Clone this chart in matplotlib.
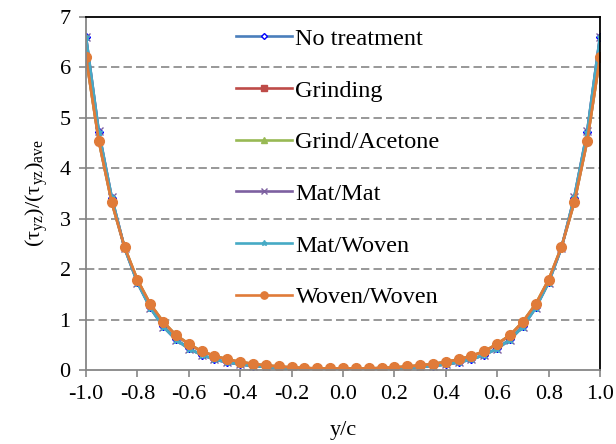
import numpy as np
import matplotlib
matplotlib.use("Agg")
import matplotlib.pyplot as plt

plt.rcParams['font.family'] = ['Liberation Serif', 'DejaVu Serif']

# y/c stations
y_c = [-1.00, -0.95, -0.90, -0.85, -0.80, -0.75, -0.70, -0.65, -0.60, -0.55,
       -0.50, -0.45, -0.40, -0.35, -0.30, -0.25, -0.20, -0.15, -0.10, -0.05,
       0.00, 0.05, 0.10, 0.15, 0.20, 0.25, 0.30, 0.35, 0.40, 0.45,
       0.50, 0.55, 0.60, 0.65, 0.70, 0.75, 0.80, 0.85, 0.90, 0.95, 1.00]

no_treatment = [6.60, 4.71, 3.42, 2.42, 1.74, 1.24, 0.87, 0.61, 0.43, 0.30,
                0.21, 0.15, 0.11, 0.08, 0.06, 0.04, 0.03, 0.02, 0.02, 0.01,
                0.01, 0.01, 0.02, 0.02, 0.03, 0.04, 0.06, 0.08, 0.11, 0.15,
                0.21, 0.30, 0.43, 0.61, 0.87, 1.24, 1.74, 2.42, 3.42, 4.71, 6.60]
grinding = [6.20, 4.53, 3.32, 2.43, 1.78, 1.30, 0.95, 0.69, 0.51, 0.37,
            0.28, 0.21, 0.16, 0.12, 0.09, 0.07, 0.05, 0.04, 0.03, 0.03,
            0.03, 0.03, 0.03, 0.04, 0.05, 0.07, 0.09, 0.12, 0.16, 0.21,
            0.28, 0.37, 0.51, 0.69, 0.95, 1.30, 1.78, 2.43, 3.32, 4.53, 6.20]
grind_acetone = [6.21, 4.54, 3.33, 2.44, 1.79, 1.31, 0.96, 0.69, 0.52, 0.37,
                 0.28, 0.21, 0.16, 0.12, 0.09, 0.07, 0.05, 0.04, 0.03, 0.03,
                 0.03, 0.03, 0.03, 0.04, 0.05, 0.07, 0.09, 0.12, 0.16, 0.21,
                 0.28, 0.37, 0.52, 0.69, 0.96, 1.31, 1.79, 2.44, 3.33, 4.54, 6.21]
mat_mat = [6.61, 4.73, 3.43, 2.42, 1.73, 1.23, 0.86, 0.60, 0.42, 0.30,
           0.21, 0.15, 0.11, 0.08, 0.06, 0.04, 0.03, 0.02, 0.02, 0.01,
           0.01, 0.01, 0.02, 0.02, 0.03, 0.04, 0.06, 0.08, 0.11, 0.15,
           0.21, 0.30, 0.42, 0.60, 0.86, 1.23, 1.73, 2.42, 3.43, 4.73, 6.61]
mat_woven = [6.61, 4.72, 3.43, 2.42, 1.73, 1.23, 0.86, 0.60, 0.42, 0.30,
             0.21, 0.15, 0.11, 0.08, 0.06, 0.04, 0.03, 0.02, 0.02, 0.01,
             0.01, 0.01, 0.02, 0.02, 0.03, 0.04, 0.06, 0.08, 0.11, 0.15,
             0.21, 0.30, 0.42, 0.60, 0.86, 1.23, 1.73, 2.42, 3.43, 4.72, 6.61]
woven_woven = [6.21, 4.54, 3.33, 2.44, 1.79, 1.31, 0.96, 0.69, 0.52, 0.37,
               0.28, 0.21, 0.16, 0.12, 0.09, 0.07, 0.05, 0.04, 0.03, 0.03,
               0.03, 0.03, 0.03, 0.04, 0.05, 0.07, 0.09, 0.12, 0.16, 0.21,
               0.28, 0.37, 0.52, 0.69, 0.96, 1.31, 1.79, 2.44, 3.33, 4.54, 6.21]

labels = ['No treatment', 'Grinding', 'Grind/Acetone', 'Mat/Mat', 'Mat/Woven', 'Woven/Woven']
series = [no_treatment, grinding, grind_acetone, mat_mat, mat_woven, woven_woven]
colors = ['#4A7EBB', '#BE4B48', '#98B954', '#7D60A0', '#46AAC5', '#E07B39']
markers = ['D', 's', '^', 'x', '*', 'o']
msizes = [4, 5, 5, 6, 5, 7]

fig = plt.figure(figsize=(6.16, 4.44), dpi=100)
ax = fig.add_axes([0.1396, 0.1667, 0.974 - 0.1396, 0.9617 - 0.1667])

for vals, lab, c, m, ms in zip(series, labels, colors, markers, msizes):
    mfc = 'white' if m == 'D' else c
    mec = '#0000FF' if m == 'D' else c
    ax.plot(y_c, vals, color=c, marker=m, markersize=ms, linewidth=1.9,
            markerfacecolor=mfc, markeredgecolor=mec, label=lab)

ax.set_xlim(-1, 1)
ax.set_ylim(0, 7)
xt = np.arange(-1.0, 1.01, 0.2)
ax.set_xticks(xt)
ax.set_xticklabels([f"{round(v, 1):.1f}".replace('-0.0', '0.0') for v in xt])
ax.set_yticks(range(0, 8))

for yv in range(1, 7):
    ax.axhline(yv, color='#868686', linestyle=(0, (5, 2.5)), linewidth=1.2, zorder=0)

for s in ['left', 'bottom']:
    ax.spines[s].set_color('#868686')
    ax.spines[s].set_linewidth(1.3)
for s in ['top', 'right']:
    ax.spines[s].set_color('black')
    ax.spines[s].set_linewidth(1.3)

ax.tick_params(axis='both', direction='out', length=5, width=1.2, color='#868686',
               labelsize=16, pad=6)

ax.set_xlabel('y/c', fontsize=16, labelpad=12)
ax.set_ylabel('(τ$_{\\mathregular{yz}}$)/(τ$_{\\mathregular{yz}}$)$_{\\mathregular{ave}}$',
              fontsize=16, labelpad=6)

leg = ax.legend(loc='upper center', bbox_to_anchor=(0.49, 1.0), frameon=False,
                fontsize=17.5, labelspacing=1.22, handlelength=2.3, handletextpad=0.15,
                borderaxespad=0.05, markerscale=0.75)

fig.savefig('out.png', dpi=100)
